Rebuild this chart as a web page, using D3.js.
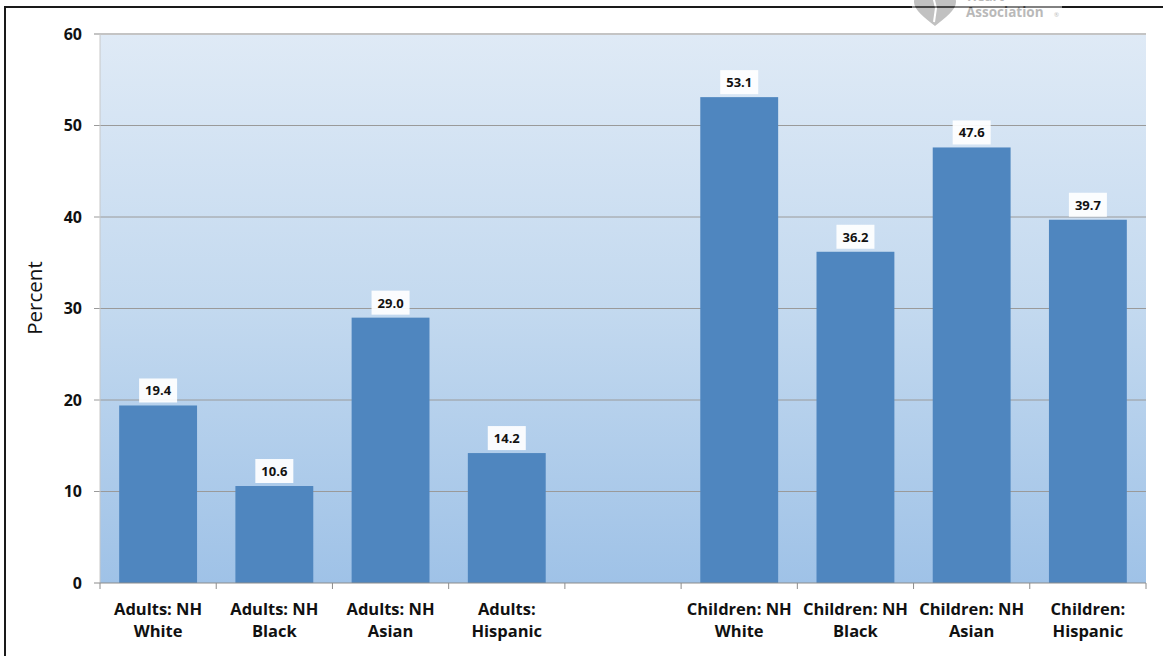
<!DOCTYPE html>
<html><head><meta charset="utf-8">
<script src="https://cdn.jsdelivr.net/npm/d3@7"></script>
<style>html,body{margin:0;padding:0;background:#fff;}svg{display:block;}</style>
</head><body>
<script>
const categories = [
  ["Adults: NH","White"],["Adults: NH","Black"],["Adults: NH","Asian"],["Adults:","Hispanic"],
  ["",""],
  ["Children: NH","White"],["Children: NH","Black"],["Children: NH","Asian"],["Children:","Hispanic"]
];
const values = [19.4, 10.6, 29.0, 14.2, null, 53.1, 36.2, 47.6, 39.7];
const yTicks = [0, 10, 20, 30, 40, 50, 60];
const yLabel = "Percent";

const W = 1163, H = 656;
const svg = d3.select("body").append("svg").attr("width", W).attr("height", H);
const font = "'Open Sans', sans-serif";

const m = {left:100, right:1146, top:34, bottom:583};
const x = d3.scaleBand().domain(d3.range(categories.length)).range([m.left, m.right]).paddingInner(0).paddingOuter(0);
const y = d3.scaleLinear().domain([0, 60]).range([m.bottom, m.top]);

const defs = svg.append("defs");
const g = defs.append("linearGradient").attr("id","bg").attr("x1",0).attr("y1",0).attr("x2",0).attr("y2",1);
g.append("stop").attr("offset","0%").attr("stop-color","#dfeaf6");
g.append("stop").attr("offset","50%").attr("stop-color","#c3d9ef");
g.append("stop").attr("offset","100%").attr("stop-color","#9fc2e7");

// outer border
svg.append("line").attr("x1",4).attr("x2",W).attr("y1",7).attr("y2",7).attr("stroke","#1a1a1a").attr("stroke-width",2);
svg.append("line").attr("x1",5).attr("x2",5).attr("y1",6).attr("y2",H).attr("stroke","#1a1a1a").attr("stroke-width",2);

// logo (faded)
const logo = svg.append("g").attr("opacity",0.45);
logo.append("rect").attr("x",912).attr("y",0).attr("width",150).attr("height",22).attr("fill","#fff");
logo.append("path").attr("d","M935,26 C925,18 914,10 914,2 C914,-6 922,-10 928,-8 C931,-7 934,-4 935,-2 C936,-4 939,-7 942,-8 C948,-10 956,-6 956,2 C956,10 945,18 935,26 Z").attr("fill","#777");
logo.append("path").attr("d","M933,-4 L936,8 L934,22").attr("stroke","#fff").attr("stroke-width",2).attr("fill","none");
logo.append("text").attr("x",967).attr("y",1).attr("font-family",font).attr("font-weight","bold").attr("font-size",13).attr("fill","#666").text("Heart");
logo.append("text").attr("x",966).attr("y",17).attr("font-family",font).attr("font-weight","bold").attr("font-size",13.5).attr("fill","#666").text("Association");
logo.append("text").attr("x",1054).attr("y",17).attr("font-family",font).attr("font-size",6).attr("fill","#666").text("®");

// plot background
svg.append("rect").attr("x",m.left).attr("y",m.top).attr("width",m.right-m.left).attr("height",m.bottom-m.top).attr("fill","url(#bg)");

// gridlines
svg.append("g").selectAll("line").data(yTicks.filter(d=>d>0)).join("line")
  .attr("x1",m.left-6).attr("x2",m.right).attr("y1",d=>y(d)).attr("y2",d=>y(d))
  .attr("stroke",d=>d===60?"#c4c4c4":"#9a9a9a").attr("stroke-width",d=>d===60?2:1);

// left axis line
svg.append("line").attr("x1",m.left).attr("x2",m.left).attr("y1",m.top).attr("y2",m.bottom).attr("stroke","#c8c8c8").attr("stroke-width",1);

// bars
const bw = x.bandwidth()*0.67;
const data = values.map((v,i)=>({v,i})).filter(d=>d.v!==null);
svg.append("g").selectAll("rect").data(data).join("rect")
  .attr("x",d=>x(d.i)+(x.bandwidth()-bw)/2).attr("width",bw)
  .attr("y",d=>y(d.v)).attr("height",d=>y(0)-y(d.v)).attr("fill","#4f86bf");

// value labels
const lab = svg.append("g").selectAll("g").data(data).join("g")
  .attr("transform",d=>`translate(${x(d.i)+x.bandwidth()/2},${y(d.v)})`);
lab.append("rect").attr("x",-19).attr("y",-27).attr("width",38).attr("height",24).attr("fill","#fff").attr("opacity",0.92);
lab.append("text").attr("text-anchor","middle").attr("y",-10).attr("font-family",font).attr("font-weight","bold").attr("font-size",13).attr("fill","#111")
  .text(d=>d.v.toFixed(1));

// bottom axis
svg.append("line").attr("x1",m.left-6).attr("x2",m.right).attr("y1",m.bottom).attr("y2",m.bottom).attr("stroke","#8c8c8c").attr("stroke-width",1.2);
const bounds = d3.range(categories.length+1).map(i=>m.left + i*x.step());
svg.append("g").selectAll("line").data(bounds).join("line")
  .attr("x1",d=>d).attr("x2",d=>d).attr("y1",m.bottom).attr("y2",m.bottom+6).attr("stroke","#8c8c8c");

// y tick labels
svg.append("g").selectAll("text").data(yTicks).join("text")
  .attr("x",82).attr("y",d=>y(d)).attr("dy","0.36em").attr("text-anchor","end")
  .attr("font-family",font).attr("font-weight","bold").attr("font-size",16).attr("fill","#111").text(d=>d);

// category labels
const cl = svg.append("g").selectAll("text").data(categories.map((c,i)=>({c,i}))).join("text")
  .attr("text-anchor","middle").attr("font-family",font).attr("font-weight","bold").attr("font-size",16.5).attr("fill","#111");
cl.append("tspan").attr("x",d=>x(d.i)+x.bandwidth()/2).attr("y",615).text(d=>d.c[0]);
cl.append("tspan").attr("x",d=>x(d.i)+x.bandwidth()/2).attr("y",637).text(d=>d.c[1]);

// y label
svg.append("text").attr("transform",`translate(42,298) rotate(-90)`)
  .attr("text-anchor","middle").attr("font-family",font).attr("font-size",20.5).attr("fill","#111").text(yLabel);
</script>
</body></html>
